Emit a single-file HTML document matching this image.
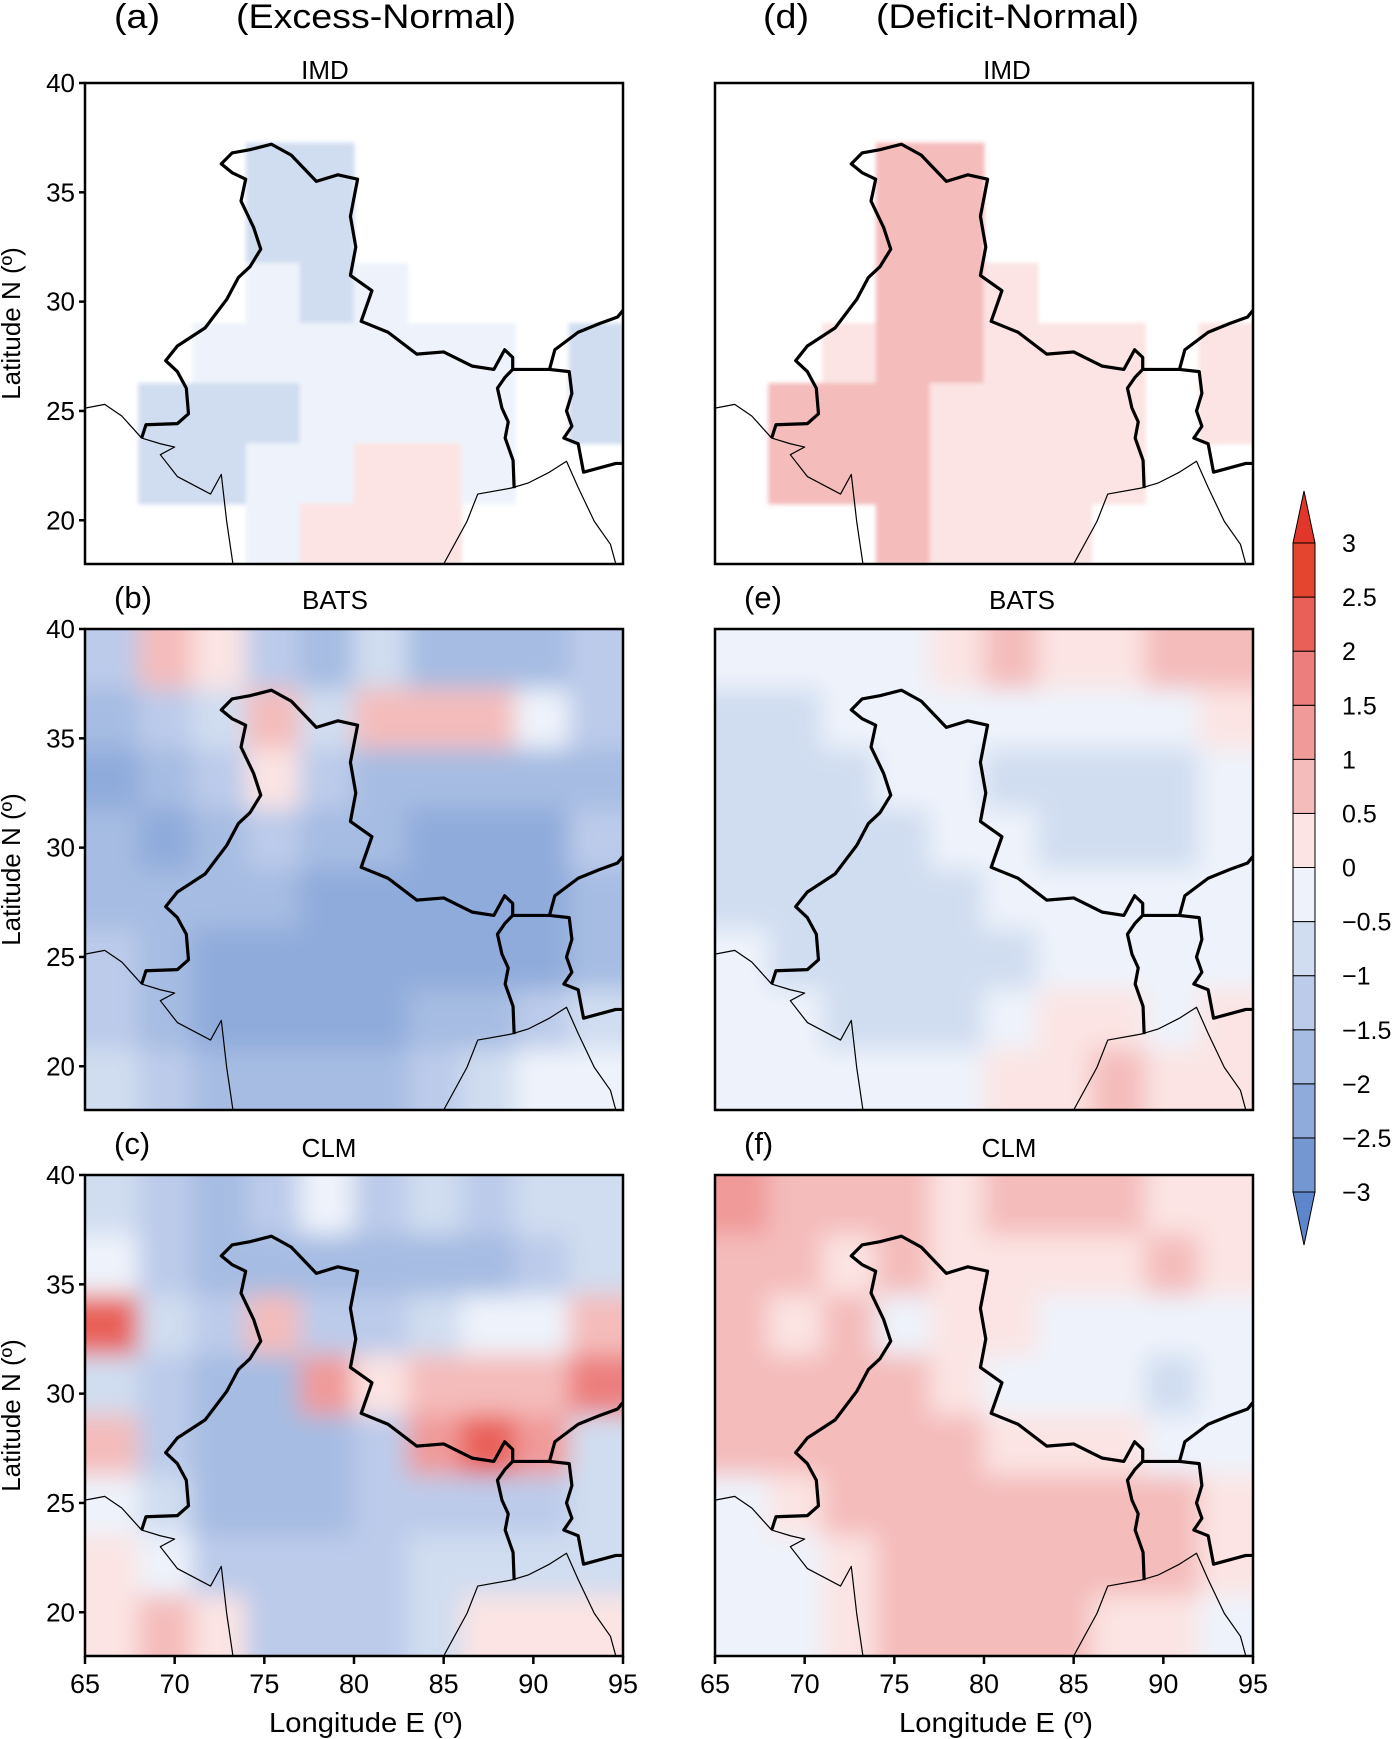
<!DOCTYPE html>
<html><head><meta charset="utf-8"><style>
html,body{margin:0;padding:0;background:#fff;}
svg{display:block;font-family:"Liberation Sans",sans-serif;}
</style></head><body>
<svg id="fig" width="1399" height="1739" viewBox="0 0 1399 1739" xmlns="http://www.w3.org/2000/svg">
<defs>
<filter id="blur" x="-5%" y="-5%" width="110%" height="110%"><feGaussianBlur stdDeviation="12"/></filter>
<filter id="blurS"><feGaussianBlur stdDeviation="2"/></filter>
</defs>
<g id="root"></g>
</svg>
<script>
const NS='http://www.w3.org/2000/svg';
const lonTicks=[65,70,75,80,85,90,95];
const latTicks=[20,25,30,35,40];
const cbLevels=[-3,-2.5,-2,-1.5,-1,-0.5,0,0.5,1,1.5,2,2.5,3];
const cbLabels=['\u22123','\u22122.5','\u22122','\u22121.5','\u22121','\u22120.5','0','0.5','1','1.5','2','2.5','3'];
const cbColors=['#5e86cc','#7497d2','#8fabdb','#a6bce2','#bccbea','#d0ddf0','#eef3fb','#fbe4e3','#f4bcbb','#f09a99','#ec7f7e','#e96058','#e4452e','#e2362a'];
const N=null;
const gridA=[[N,N,N,N,N,N,N,N,N,N],[N,N,N,-0.7,-0.7,N,N,N,N,N],[N,N,N,-0.7,-0.7,N,N,N,N,N],[N,N,N,-0.3,-0.7,-0.3,N,N,N,N],[N,N,-0.3,-0.3,-0.3,-0.3,-0.3,-0.3,N,-0.7],[N,-0.7,-0.6,-0.8,-0.3,-0.3,-0.3,-0.3,N,-0.7],[N,-0.7,-0.7,-0.3,-0.3,0.3,0.3,-0.3,N,N],[N,N,N,-0.3,0.3,0.3,0.3,N,N,N]];
const gridD=[[N,N,N,N,N,N,N,N,N,N],[N,N,N,0.7,0.7,N,N,N,N,N],[N,N,N,0.7,0.7,N,N,N,N,N],[N,N,N,0.7,0.7,0.3,N,N,N,N],[N,N,0.3,0.7,0.7,0.3,0.3,0.3,N,0.3],[N,0.7,0.7,0.7,0.3,0.3,0.3,0.3,N,0.3],[N,0.7,0.7,0.7,0.3,0.3,0.3,0.3,N,N],[N,N,N,0.7,0.3,0.3,0.3,N,N,N]];
const gridB=[[-1.4,0.7,0.3,-1.5,-1.9,-1.0,-2.0,-2.0,-1.6,-1.4],[-2.0,-1.5,-0.8,0.5,-0.7,0.7,0.8,0.7,-0.5,-1.4],[-2.3,-2.0,-1.5,0.3,-1.4,-1.9,-1.9,-1.8,-1.6,-1.7],[-1.9,-2.1,-1.9,-1.5,-1.6,-1.9,-2.3,-2.5,-2.4,-1.5],[-1.7,-2.0,-1.7,-1.9,-2.2,-2.2,-2.1,-2.2,-2.2,-1.9],[-1.5,-1.9,-2.3,-2.3,-2.4,-2.4,-2.3,-2.1,-2.3,-1.9],[-1.4,-1.8,-2.3,-2.2,-2.3,-2.4,-1.9,-1.6,-1.3,-1.0],[-1.0,-1.3,-1.6,-1.9,-2.0,-1.9,-1.3,-0.7,-0.4,-0.4]];
const gridE=[[-0.3,-0.3,-0.3,-0.3,0.3,0.7,0.3,0.3,0.7,0.7],[-0.6,-0.7,-0.3,-0.3,-0.3,-0.3,-0.3,-0.3,-0.3,0.3],[-0.9,-0.6,-0.6,-0.3,-0.3,-0.6,-0.6,-0.6,-0.7,-0.3],[-0.6,-0.7,-0.7,-0.7,-0.3,-0.3,-0.6,-0.7,-0.7,-0.3],[-0.6,-0.7,-0.7,-0.7,-0.7,-0.3,-0.3,-0.3,-0.3,-0.3],[-0.3,-0.6,-0.7,-0.7,-0.8,-0.7,-0.3,-0.3,-0.3,-0.3],[-0.3,-0.3,-0.6,-0.7,-0.6,-0.3,0.3,0.3,-0.3,0.3],[-0.3,-0.3,-0.3,-0.3,-0.3,0.3,0.3,0.7,0.3,0.3]];
const gridC=[[-0.6,-1.3,-1.8,-1.4,-0.3,-1.1,-1.0,-1.3,-1.0,-0.6],[-0.5,-1.3,-1.8,-1.7,-1.7,-1.8,-1.9,-1.9,-1.3,-0.7],[2.0,-0.8,-1.4,0.5,-1.1,-1.1,-0.6,-0.3,-0.3,0.7],[-0.6,-1.3,-1.7,-1.7,1.0,0.3,0.5,0.5,0.8,1.5],[0.5,-1.2,-1.6,-1.7,-1.7,-1.4,1.2,2.0,1.0,-0.6],[-0.3,-1.0,-1.6,-1.8,-1.7,-1.5,-1.3,-1.2,-1.2,-1.0],[0.3,-0.3,-1.1,-1.5,-1.5,-1.3,-1.0,-0.6,-0.6,-0.9],[0.3,0.5,0.3,-1.1,-1.5,-1.2,-0.9,0.3,0.3,0.3]];
const gridF=[[1.2,0.7,0.7,0.7,0.3,0.7,0.7,0.7,0.3,0.3],[0.7,0.7,0.3,0.7,0.3,0.3,0.3,0.3,0.7,0.3],[0.7,0.3,0.7,-0.3,0.3,0.3,-0.3,-0.3,-0.3,-0.3],[0.7,0.7,0.7,0.7,0.3,-0.3,-0.3,-0.3,-0.6,-0.3],[0.7,0.7,0.7,0.7,0.7,0.3,0.3,0.3,-0.3,-0.3],[-0.3,0.3,0.7,0.7,0.7,0.7,0.7,0.7,0.7,0.3],[-0.3,-0.3,0.3,0.7,0.7,0.7,0.7,0.7,0.7,0.3],[-0.3,-0.3,0.3,0.7,0.7,0.7,0.7,0.3,0.3,-0.3]];
const border=[[68.16,23.76],[68.4,24.37],[70.15,24.42],[70.77,24.87],[70.65,26.04],[70.15,26.8],[69.5,27.3],[70.15,27.97],[71.7,28.8],[72.9,30.1],[73.55,31.1],[74.2,31.6],[74.8,32.4],[74.4,33.4],[73.7,34.6],[73.96,35.6],[73.2,35.9],[72.6,36.3],[73.2,36.8],[74.2,36.95],[75.4,37.2],[76.5,36.7],[77.9,35.5],[79.1,35.8],[80.2,35.6],[79.8,33.9],[80.1,32.5],[79.8,31.2],[81.0,30.5],[80.4,29.1],[81.9,28.6],[83.5,27.6],[85.0,27.7],[86.6,27.05],[87.8,26.9],[88.4,27.8],[88.85,27.45],[88.85,26.9],[90.9,26.9],[91.2,27.8],[92.5,28.6],[93.7,29.0],[94.7,29.3],[95,29.6]];
const bangW=[[88.85,26.9],[88.43,26.55],[88.0,26.04],[88.25,25.13],[88.6,24.5],[88.43,23.76],[88.87,22.74],[88.93,21.47]];
const bangE=[[90.9,26.9],[92.0,26.8],[92.15,25.8],[91.85,25.0],[92.15,24.3],[91.7,23.76],[92.5,23.5],[92.8,22.2],[94.6,22.6],[95,22.6]];
const coastW=[[65,25.13],[66.1,25.3],[67.05,24.77],[68.16,23.76],[69.2,23.5],[70.0,23.35],[69.2,23.0],[70.15,22.0],[72.0,21.2],[72.6,22.1],[72.9,19.95],[73.25,18.0]];
const coastE=[[85.0,18.0],[86.3,19.95],[86.9,21.2],[88.75,21.47],[89.7,21.7],[90.9,22.2],[91.85,22.7],[92.5,21.5],[93.4,19.95],[94.3,18.9],[94.6,18.0]];

const root=document.getElementById('root');
function el(tag,attrs,parent){const e=document.createElementNS(NS,tag);for(const k in attrs)e.setAttribute(k,attrs[k]);(parent||root).appendChild(e);return e;}
function colorOf(v){let i=0;while(i<cbLevels.length&&v>=cbLevels[i])i++;return cbColors[i];}

const panels=[
 {id:'a',x:85,y:83,grid:gridA,model:'IMD',tx:325,ty:79,lab:'(a)',left:true,bottom:false,imd:true},
 {id:'b',x:85,y:629,grid:gridB,model:'BATS',tx:335,ty:609,lab:'(b)',left:true,bottom:false},
 {id:'c',x:85,y:1175,grid:gridC,model:'CLM',tx:329,ty:1157,lab:'(c)',left:true,bottom:true},
 {id:'d',x:715,y:83,grid:gridD,model:'IMD',tx:1007,ty:79,lab:'(d)',left:false,bottom:false,imd:true},
 {id:'e',x:715,y:629,grid:gridE,model:'BATS',tx:1022,ty:609,lab:'(e)',left:false,bottom:false},
 {id:'f',x:715,y:1175,grid:gridF,model:'CLM',tx:1009,ty:1157,lab:'(f)',left:false,bottom:true},
];
const W=538,H=481;
panels.forEach(p=>{
  const g=el('g',{});
  
  
  const xS=lon=>p.x+(lon-65)/30*W;
  const yS=lat=>p.y+(40-lat)/22*H;
  const cp=el('clipPath',{id:'clip'+p.id},g);
  el('rect',{x:p.x,y:p.y,width:W,height:H},cp);
  const field=el('g',{'clip-path':'url(#clip'+p.id+')'},g);
  
  
  const inner=el('g',{filter:p.imd?'url(#blurS)':'url(#blur)'},field);
  const rows=p.grid.length,cols=p.grid[0].length;
  const dLat=22/rows,dLon=30/cols;
  p.grid.forEach((row,r)=>row.forEach((v,c)=>{
    if(v===null)return;
    const x0=xS(65+c*dLon),x1=xS(65+(c+1)*dLon);
    const y0=yS(40-r*dLat),y1=yS(40-(r+1)*dLat);
    const pad=p.imd?0.5:30;
    const px0=c===0?pad:0.5,px1=c===cols-1?pad:0.5,py0=r===0?pad:0.5,py1=r===rows-1?pad:0.5;
    const cell=el('rect',{x:x0-px0,y:y0-py0,width:x1-x0+px0+px1,height:y1-y0+py0+py1,fill:colorOf(v)},inner);
    
    
  }));
  const line=(pts,w)=>el('polyline',{points:pts.map(q=>xS(q[0])+','+yS(q[1])).join(' '),fill:'none',stroke:'#000','stroke-width':w,'stroke-linejoin':'round'},field);
  const c1=line(coastW,1.2);
  const c2=line(coastE,1.2);
  const b1=line(border,3.2);
  const b2=line(bangW,3.2);
  const b3=line(bangE,3.2);
  const fr=el('rect',{x:p.x,y:p.y,width:W,height:H,fill:'none',stroke:'#000','stroke-width':2.5},g);
  
  
  const mt=el('text',{x:p.tx,y:p.ty,'text-anchor':'middle','font-size':26},g);
  mt.textContent=p.model;
  
  
  if(p.id!=='a'&&p.id!=='d'){
    const lt=el('text',{x:p.x+29,y:p.y-21,'font-size':31},g);
    lt.textContent=p.lab;
    
    
  }
  if(p.left){
    latTicks.forEach(t=>{
      el('line',{x1:p.x-6,x2:p.x,y1:yS(t),y2:yS(t),stroke:'#000','stroke-width':2.5},g);
      const tt=el('text',{x:p.x-10,y:yS(t)+9,'text-anchor':'end','font-size':26},g);
      tt.textContent=t;
      
      
    });
    const yt=el('text',{x:0,y:0,'text-anchor':'middle','font-size':26,transform:'translate(20,'+(p.y+H/2)+') rotate(-90)'},g);
    yt.textContent='Latitude N (\u00BA)';
    
    
  }
  if(p.bottom){
    lonTicks.forEach(t=>{
      el('line',{x1:xS(t),x2:xS(t),y1:p.y+H,y2:p.y+H+8,stroke:'#000','stroke-width':2.5},g);
      const tt=el('text',{x:xS(t),y:p.y+H+37,'text-anchor':'middle','font-size':27},g);
      tt.textContent=t;
      
      
    });
    const xt=el('text',{x:p.x+W/2+12,y:1732,'text-anchor':'middle','font-size':28,textLength:194,lengthAdjust:'spacingAndGlyphs'},g);
    xt.textContent='Longitude E (\u00BA)';
    
    
  }
});
[[114,'(a)',46],[236,'(Excess-Normal)',280],[763,'(d)',46],[876,'(Deficit-Normal)',263]].forEach(h=>{
  const t=el('text',{x:h[0],y:28,'font-size':34,textLength:h[2],lengthAdjust:'spacingAndGlyphs'});
  t.textContent=h[1];
  
  
});
const cb=el('g',{});


const cbX=1293,cbW=22,cbTop=543,cbBot=1192;
const cy=v=>cbBot-(v+3)/6*(cbBot-cbTop);
for(let i=0;i<cbLevels.length-1;i++){
  const r=el('rect',{x:cbX,y:cy(cbLevels[i+1]),width:cbW,height:cy(cbLevels[i])-cy(cbLevels[i+1]),fill:cbColors[i+1],stroke:'#000','stroke-width':1},cb);
  
  
}
const tu=el('polygon',{points:`${cbX},${cbTop} ${cbX+cbW},${cbTop} ${cbX+cbW/2},491`,fill:cbColors[13],stroke:'#000','stroke-width':1},cb);

const td=el('polygon',{points:`${cbX},${cbBot} ${cbX+cbW},${cbBot} ${cbX+cbW/2},1245`,fill:cbColors[0],stroke:'#000','stroke-width':1},cb);

cbLevels.forEach((v,i)=>{
  const t=el('text',{x:1342,y:cy(v)+9,'font-size':25},cb);
  t.textContent=cbLabels[i];
  
  
});
</script>
</body></html>
